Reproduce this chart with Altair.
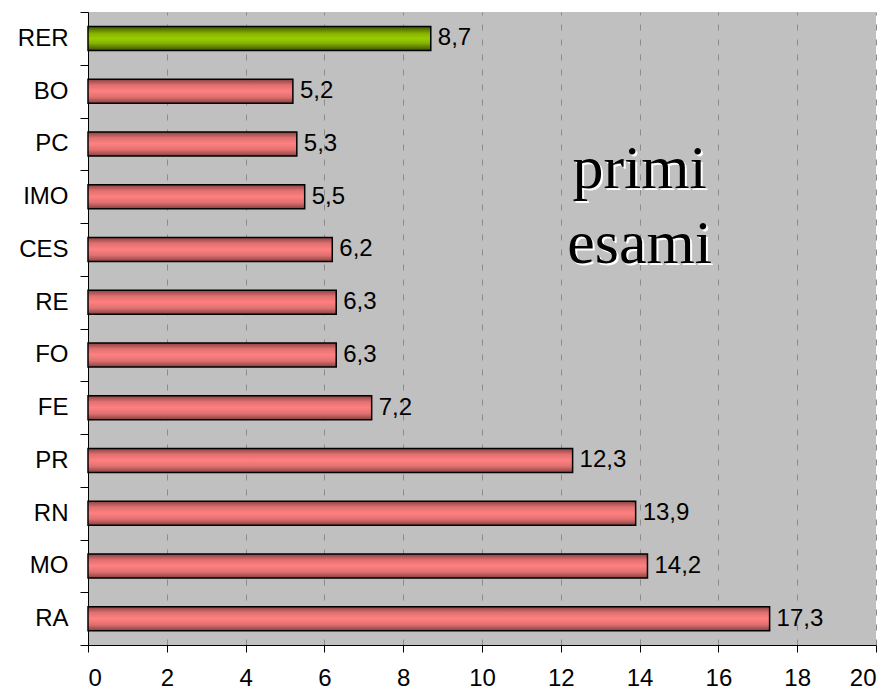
import altair as alt
import pandas as pd

categories = ["RER", "BO", "PC", "IMO", "CES", "RE", "FO", "FE", "PR", "RN", "MO", "RA"]
values = [8.7, 5.2, 5.3, 5.5, 6.2, 6.3, 6.3, 7.2, 12.3, 13.9, 14.2, 17.3]
labels = ["8,7", "5,2", "5,3", "5,5", "6,2", "6,3", "6,3", "7,2", "12,3", "13,9", "14,2", "17,3"]
x_ticks = [0, 2, 4, 6, 8, 10, 12, 14, 16, 18, 20]
note_lines = ["primi", "esami"]
note_x = 14

df = pd.DataFrame({"cat": categories, "val": values, "lab": labels})
df["grp"] = ["total" if c == "RER" else "area" for c in categories]

red_grad = alt.Gradient(
    gradient="linear", x1=0, x2=0, y1=0, y2=1,
    stops=[
        alt.GradientStop(color="#8a4040", offset=0),
        alt.GradientStop(color="#e07070", offset=0.25),
        alt.GradientStop(color="#ff8080", offset=0.5),
        alt.GradientStop(color="#e07070", offset=0.75),
        alt.GradientStop(color="#8a4040", offset=1),
    ],
)
green_grad = alt.Gradient(
    gradient="linear", x1=0, x2=0, y1=0, y2=1,
    stops=[
        alt.GradientStop(color="#3d5200", offset=0),
        alt.GradientStop(color="#86b300", offset=0.3),
        alt.GradientStop(color="#99cc00", offset=0.5),
        alt.GradientStop(color="#86b300", offset=0.7),
        alt.GradientStop(color="#3d5200", offset=1),
    ],
)

x_enc = alt.X(
    "val:Q",
    scale=alt.Scale(domain=[0, 20], nice=False, zero=True),
    axis=alt.Axis(
        values=x_ticks, title=None, grid=True, gridColor="#8c8c8c", gridDash=[6, 9],
        gridWidth=1, domainColor="black", domainWidth=1, tickColor="black",
        tickSize=7, labelFontSize=24, labelFont="Liberation Sans", labelColor="black",
        labelPadding=14,
    ),
)
y_enc = alt.Y(
    "cat:N",
    sort=categories,
    scale=alt.Scale(paddingInner=0, paddingOuter=0),
    axis=alt.Axis(
        title=None, tickBand="extent", domainColor="black", domainWidth=1,
        tickColor="black", tickSize=8, labelFontSize=24, labelFont="Liberation Sans",
        labelColor="black", labelPadding=12,
    ),
)

base = alt.Chart(df)

bars_red = base.transform_filter(alt.datum.grp == "area").mark_bar(
    size=24, fill=red_grad, stroke="black", strokeWidth=1.5
).encode(x=x_enc, y=y_enc)

bars_green = base.transform_filter(alt.datum.grp == "total").mark_bar(
    size=24, fill=green_grad, stroke="black", strokeWidth=1.5
).encode(x="val:Q", y=alt.Y("cat:N", sort=categories))

texts = base.mark_text(
    align="left", baseline="middle", dx=7, fontSize=24, font="Liberation Sans", color="black"
).encode(x="val:Q", y=alt.Y("cat:N", sort=categories), text="lab:N")

note_df = pd.DataFrame({"line": note_lines, "nx": [note_x, note_x], "py": [176, 251]})
note_shadow = alt.Chart(note_df).mark_text(
    align="center", baseline="alphabetic", fontSize=62, font="Liberation Serif",
    color="white", dx=2, dy=2
).encode(x="nx:Q", y=alt.Y("py:Q", scale=None), text="line:N")
note_main = alt.Chart(note_df).mark_text(
    align="center", baseline="alphabetic", fontSize=62, font="Liberation Serif",
    color="black"
).encode(x="nx:Q", y=alt.Y("py:Q", scale=None), text="line:N")

chart = alt.layer(bars_red, bars_green, texts, note_shadow, note_main).properties(
    width=788, height=633,
    autosize=alt.AutoSizeParams(type="none"),
    padding={"left": 80, "top": 4, "right": 11, "bottom": 46},
    background="white",
).configure_view(fill="#c0c0c0", stroke=None)

chart.save("out.html", embed_options={"renderer": "svg", "actions": False})
